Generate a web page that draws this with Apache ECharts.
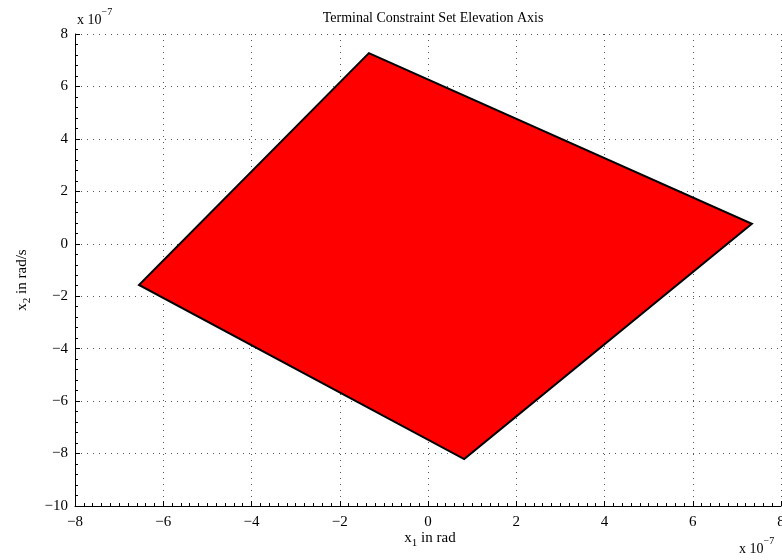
<!DOCTYPE html>
<html>
<head>
<meta charset="utf-8">
<script src="https://cdn.jsdelivr.net/npm/echarts@6/dist/echarts.min.js"></script>
<style>
  html, body { margin: 0; padding: 0; background: #fff; }
  #chart { width: 782px; height: 560px; }
</style>
</head>
<body>
<div id="chart"></div>
<script>
// Corner points of the terminal constraint polygon (units of 1e-7)
const polyX = [-1.34, 7.34, 0.82, -6.55];
const polyY = [7.27, 0.76, -8.21, -1.57];

// Axis ranges and tick spacing
const xRange = [-8, 8];
const yRange = [-10, 8];
const tickStep = 2;

const FONT = '"Liberation Serif", "DejaVu Serif", serif';

const chart = echarts.init(document.getElementById('chart'));

const axisCommon = {
  interval: tickStep,
  axisLine: { show: true, onZero: false, lineStyle: { color: '#000', width: 1 } },
  axisTick: { show: true, inside: true, length: 5, lineStyle: { color: '#000' } },
  minorTick: { show: true, length: 3, lineStyle: { color: '#000' } },
  splitLine: { show: true, lineStyle: { color: '#555', type: [1, 5], width: 1 } },
  axisLabel: {
    color: '#000', fontFamily: FONT, fontSize: 15,
    formatter: v => (v < 0 ? '\u2212' + Math.abs(v) : String(v))
  }
};

const expRich = {
  b: { fontFamily: FONT, fontSize: 14, fill: '#000', padding: [6, 0, 0, 0] },
  s: { fontFamily: FONT, fontSize: 10, fill: '#000', verticalAlign: 'top', padding: [0, 0, 8, 0] }
};

chart.setOption({
  animation: false,
  backgroundColor: '#fff',
  title: {
    text: 'Terminal Constraint Set Elevation Axis',
    left: 428, top: 6, textAlign: 'center',
    textStyle: { fontFamily: FONT, fontSize: 14, fontWeight: 'normal', color: '#000' }
  },
  grid: { left: 75, right: 1, top: 34, bottom: 54, containLabel: false, outerBoundsMode: 'none' },
  xAxis: Object.assign({}, axisCommon, {
    type: 'value', min: xRange[0], max: xRange[1],
    minorTick: Object.assign({}, axisCommon.minorTick, { splitNumber: 10 }),
    axisLabel: Object.assign({}, axisCommon.axisLabel, { margin: 9, hideOverlap: false })
  }),
  yAxis: Object.assign({}, axisCommon, {
    type: 'value', min: yRange[0], max: yRange[1],
    minorTick: Object.assign({}, axisCommon.minorTick, { splitNumber: 5 }),
    axisLabel: Object.assign({}, axisCommon.axisLabel, { margin: 7 })
  }),
  series: [{
    type: 'custom',
    coordinateSystem: 'cartesian2d',
    data: polyX.map((x, i) => [x, polyY[i]]),
    renderItem: (params, api) => {
      if (params.dataIndex !== 0) return null;
      const points = polyX.map((x, i) => api.coord([x, polyY[i]]));
      return {
        type: 'polygon',
        shape: { points },
        style: { fill: '#ff0000', stroke: '#000', lineWidth: 2, lineJoin: 'miter' }
      };
    }
  }],
  graphic: [
    {
      type: 'text', left: 77, top: 7,
      style: { text: '{b|x 10}{s|\u22127}', rich: expRich }
    },
    {
      type: 'text', left: 739, top: 536,
      style: { text: '{b|x 10}{s|\u22127}', rich: expRich }
    },
    {
      type: 'text', x: 430, y: 538,
      style: {
        text: '{b|x}{s|1}{b| in rad}',
        align: 'center', verticalAlign: 'middle',
        rich: {
          b: { fontFamily: FONT, fontSize: 15, fill: '#000' },
          s: { fontFamily: FONT, fontSize: 11, fill: '#000', padding: [10, 0, 0, 0] }
        }
      }
    },
    {
      type: 'text', x: 22, y: 280, rotation: Math.PI / 2,
      style: {
        text: '{b|x}{s|2}{b| in rad/s}',
        align: 'center', verticalAlign: 'middle',
        rich: {
          b: { fontFamily: FONT, fontSize: 15, fill: '#000' },
          s: { fontFamily: FONT, fontSize: 11, fill: '#000', padding: [10, 0, 0, 0] }
        }
      }
    }
  ]
});
</script>
</body>
</html>
